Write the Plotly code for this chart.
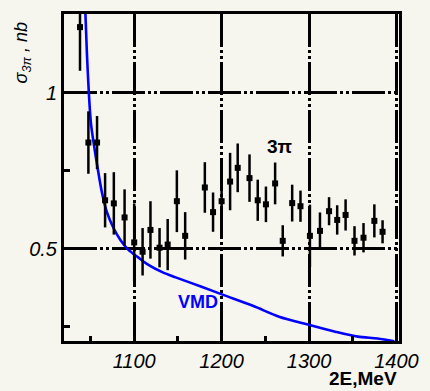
import plotly.graph_objects as go

# --- data ---
energy = [1038, 1047.6, 1057.5, 1066.7, 1076.7, 1089, 1100, 1109.6, 1118.6, 1129,
          1138.3, 1148.8, 1158.3, 1180.8, 1190.2, 1200, 1209.7, 1218.4, 1231.9, 1241.3,
          1250.7, 1261.2, 1269.9, 1280.7, 1290.2, 1301, 1312.5, 1322.9, 1332.2, 1341.8,
          1352, 1362.3, 1374.7, 1384.1]
sigma = [1.21, 0.84, 0.84, 0.655, 0.645, 0.60, 0.52, 0.49, 0.56, 0.503,
         0.513, 0.652, 0.541, 0.696, 0.617, 0.652, 0.715, 0.759, 0.726, 0.655,
         0.642, 0.709, 0.525, 0.646, 0.636, 0.541, 0.557, 0.620, 0.592, 0.608,
         0.525, 0.535, 0.589, 0.554]
sigma_err = [0.14, 0.10, 0.085, 0.087, 0.10, 0.09, 0.125, 0.076, 0.092, 0.063,
             0.082, 0.099, 0.076, 0.081, 0.063, 0.12, 0.092, 0.078, 0.076, 0.066,
             0.057, 0.067, 0.05, 0.059, 0.05, 0.1, 0.059, 0.045, 0.047, 0.05,
             0.047, 0.047, 0.053, 0.037]

vmd_e = [1044.2, 1045.9, 1048.1, 1050.4, 1053.8, 1058.3, 1062.8, 1068.4, 1076.3, 1084.2,
         1093.2, 1104.5, 1115.8, 1132.7, 1147.4, 1177.8, 1202.6, 1236.4, 1265.7, 1299.5,
         1329.9, 1355.9, 1378.5, 1397.6]
vmd_sigma = [1.253, 1.127, 1.000, 0.905, 0.835, 0.756, 0.684, 0.620, 0.566, 0.528,
             0.497, 0.472, 0.449, 0.424, 0.408, 0.377, 0.351, 0.316, 0.282, 0.256,
             0.234, 0.218, 0.212, 0.203]

x_ticks = [1100, 1200, 1300, 1400]
x_ticklabels = ["1100", "1200", "1300", "1400"]
x_minor = [1050, 1150, 1250, 1350]
y_ticks = [0.5, 1.0]
y_ticklabels = ["0.5", "1"]
y_minor = [0.25, 0.75]

BG = "#f6f5ee"
GRIDDASH = "33px,3px,3px,3px,3px,3px"

fig = go.Figure()
fig.add_trace(go.Scatter(
    x=vmd_e, y=vmd_sigma, mode="lines",
    line=dict(color="#0000ff", width=2.6, shape="spline", smoothing=0.8),
    hoverinfo="skip", showlegend=False))
fig.add_trace(go.Scatter(
    x=energy, y=sigma, mode="markers",
    marker=dict(symbol="square", size=6, color="black"),
    error_y=dict(type="data", array=sigma_err, width=0, thickness=2.5, color="black"),
    showlegend=False))

tickfont = dict(family="Liberation Sans", size=20, color="black", style="italic")

fig.update_xaxes(
    range=[1019.7, 1402.9], tickmode="array", tickvals=x_ticks, ticktext=x_ticklabels,
    showgrid=True, gridcolor="black", gridwidth=2.5, griddash=GRIDDASH,
    showline=True, linecolor="black", linewidth=3, mirror=True,
    ticks="inside", ticklen=6, tickwidth=2.5, tickcolor="black",
    tickfont=tickfont, zeroline=False, ticklabelstandoff=0,
    minor=dict(tickmode="array", tickvals=x_minor, ticks="inside", ticklen=5,
               tickwidth=2.5, tickcolor="black", showgrid=False))
fig.update_yaxes(
    range=[0.204, 1.252], tickmode="array", tickvals=y_ticks, ticktext=y_ticklabels,
    showgrid=True, gridcolor="black", gridwidth=2.5, griddash=GRIDDASH,
    showline=True, linecolor="black", linewidth=3, mirror=True,
    ticks="inside", ticklen=6, tickwidth=2.5, tickcolor="black",
    tickfont=tickfont, zeroline=False,
    minor=dict(tickmode="array", tickvals=y_minor, ticks="inside", ticklen=6,
               tickwidth=2.5, tickcolor="black", showgrid=False))

fig.add_annotation(x=1266.9, y=0.826, xref="x", yref="y", text="<b>3π</b>",
                   showarrow=False, font=dict(family="Liberation Sans", size=19, color="black"))
fig.add_annotation(x=1173, y=0.329, xref="x", yref="y", text="<b>VMD</b>",
                   showarrow=False, font=dict(family="Liberation Sans", size=18, color="#0000ff"))
fig.add_annotation(x=-0.123, y=0.882, xref="paper", yref="paper",
                   text="σ<sub>3π</sub> , nb", textangle=-90, showarrow=False,
                   xanchor="center", yanchor="middle",
                   font=dict(family="Liberation Sans", size=18, color="black", style="italic"))
fig.add_annotation(x=1.0, y=-0.114, xref="paper", yref="paper",
                   text="<b>2E,MeV</b>", showarrow=False,
                   xanchor="right", yanchor="middle",
                   font=dict(family="Liberation Sans", size=19, color="black"))

fig.update_layout(
    width=430, height=391,
    margin=dict(l=64, r=25, t=11, b=50),
    paper_bgcolor=BG, plot_bgcolor=BG,
    showlegend=False)

fig.write_html("out.html")
